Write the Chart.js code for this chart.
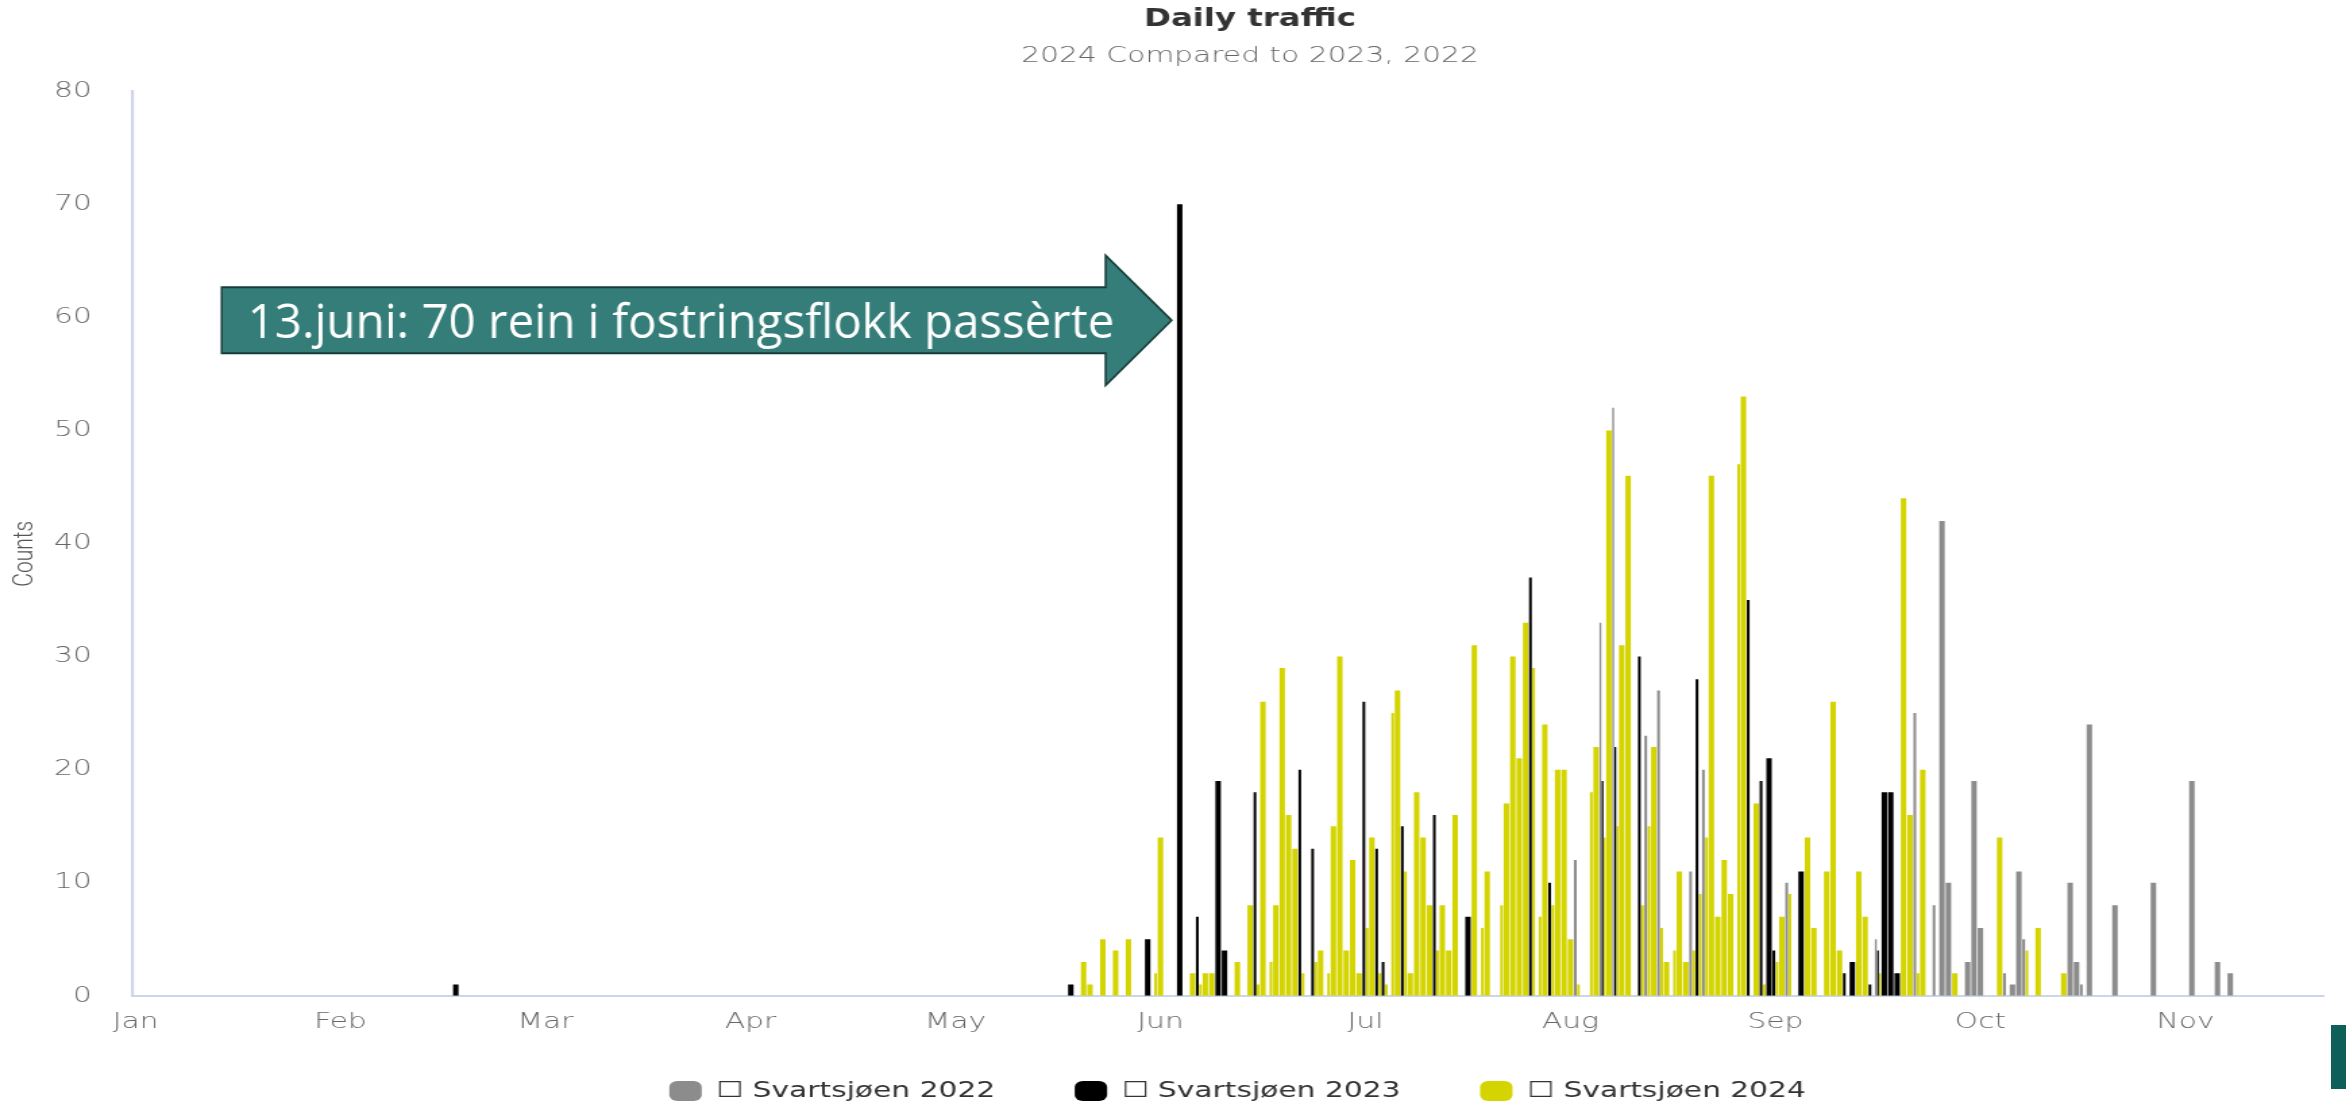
<!DOCTYPE html>
<html>
<head>
<meta charset="utf-8">
<title>Daily traffic</title>
<script src="https://cdn.jsdelivr.net/npm/chart.js@4.4.1/dist/chart.umd.min.js"></script>
<style>
    html, body { margin: 0; padding: 0; background: #fff; overflow: hidden; }
    #wrap { position: relative; width: 2346px; height: 1107px; overflow: hidden; }
    #chart { position: absolute; left: 0; top: 0; }
    .side-tab { position: absolute; left: 2331px; top: 1025px; width: 15px; height: 64px; background: #0e5e5a; }
</style>
</head>
<body>
<div id="wrap">
    <!-- drawn at 1852px wide and shown 1.35x wider, like the original screenshot -->
    <canvas id="chart" width="1852" height="1107" style="width:2500px;height:1107px;"></canvas>
    <div class="side-tab"></div>
</div>
<script>
// --- Data ---
// x axis: one category per day, index 0 = 1 Jan (non-leap calendar)
const dayCount = 342;
const labelEvery = 32;
const monthNames = ['Jan', 'Feb', 'Mar', 'Apr', 'May', 'Jun', 'Jul', 'Aug', 'Sep', 'Oct', 'Nov', 'Dec'];

// day index -> count (0 = counted day with nothing passing)
const days2022 = [225, 229, 231, 236, 238, 243, 245, 258, 272, 278, 281, 282, 283, 286, 287, 288, 292, 293, 294, 295,
    302, 303, 304, 305, 309, 315, 321, 325, 327];
const counts2022 = [12, 33, 52, 23, 27, 11, 20, 10, 5, 25, 8, 42, 10, 3, 19, 6, 2, 1, 11, 5,
    10, 3, 1, 24, 8, 10, 19, 3, 2];

const days2023 = [50, 146, 158, 159, 163, 166, 169, 170, 175, 177, 182, 184, 186, 192, 194, 195, 196, 198, 203, 208,
    210, 213, 218, 219, 221, 227, 229, 231, 235, 240, 244, 250, 252, 254, 255, 256, 260, 267, 268, 271,
    272, 273, 274, 275];
const counts2023 = [1, 1, 5, 0, 70, 7, 19, 4, 18, 0, 20, 13, 0, 26, 13, 3, 0, 15, 16, 7,
    0, 0, 37, 0, 10, 0, 19, 22, 30, 0, 28, 0, 35, 19, 21, 4, 11, 2, 3, 1,
    4, 18, 18, 2];

const days2024 = [148, 149, 151, 153, 155, 159, 160, 165, 166, 167, 168, 172, 174, 175, 176, 177, 178, 179, 180, 181,
    182, 184, 185, 186, 187, 188, 189, 190, 191, 192, 193, 194, 195, 196, 197, 198, 199, 200, 201, 202,
    203, 204, 205, 206, 209, 210, 211, 213, 214, 215, 216, 217, 218, 219, 220, 221, 222, 223, 224, 225,
    227, 228, 229, 230, 231, 232, 233, 235, 236, 237, 238, 239, 240, 241, 242, 243, 244, 245, 246, 247,
    248, 249, 250, 251, 252, 253, 254, 256, 257, 258, 261, 262, 264, 265, 266, 267, 269, 270, 271, 272,
    276, 277, 278, 279, 281, 284, 291, 292, 295, 297, 301, 304];
const counts2024 = [3, 1, 5, 4, 5, 2, 14, 2, 1, 2, 2, 3, 8, 1, 26, 3, 8, 29, 16, 13,
    2, 3, 4, 2, 15, 30, 4, 12, 2, 6, 14, 2, 1, 25, 27, 11, 2, 18, 14, 8,
    4, 8, 4, 16, 31, 6, 11, 8, 17, 30, 21, 33, 29, 7, 24, 8, 20, 20, 5, 1,
    18, 22, 14, 50, 15, 31, 46, 8, 15, 22, 6, 3, 4, 11, 3, 4, 9, 14, 46, 7,
    12, 9, 47, 53, 0, 17, 1, 3, 7, 9, 14, 6, 11, 26, 4, 0, 11, 7, 0, 2,
    44, 16, 2, 20, 0, 2, 14, 0, 4, 6, 2, 0];

const yMin = 0;
const yMax = 80;
const yStep = 10;

const noteText = '13.juni: 70 rein i fostringsflokk passèrte';
const noteDay = 163;
const noteLevel = 60;

const STRETCH = 1.35; // css width / canvas width

// --- Build chart inputs ---
const labels = [];
for (let i = 0; i < dayCount; i++) {
    const d = new Date(Date.UTC(2023, 0, 1 + i));
    labels.push(monthNames[d.getUTCMonth()] + ' ' + d.getUTCDate());
}

function fillSeries(days, counts) {
    const out = new Array(dayCount).fill(null);
    days.forEach((d, i) => { out[d] = counts[i]; });
    return out;
}

// arrow callout pointing at the 13 June bar, drawn in screen pixels
const arrowNote = {
    id: 'arrowNote',
    afterDatasetsDraw(chart) {
        const { ctx, scales: { x, y } } = chart;
        const tipX = x.getPixelForValue(noteDay) - 6;
        const tipY = y.getPixelForValue(noteLevel) + 3;
        ctx.save();
        ctx.translate(tipX, tipY);
        ctx.scale(1 / STRETCH, 1);
        ctx.beginPath();
        ctx.moveTo(-950, -33);
        ctx.lineTo(-66, -33);
        ctx.lineTo(-66, -65);
        ctx.lineTo(0, 0);
        ctx.lineTo(-66, 65);
        ctx.lineTo(-66, 33);
        ctx.lineTo(-950, 33);
        ctx.closePath();
        ctx.fillStyle = '#347d79';
        ctx.fill();
        ctx.lineWidth = 2;
        ctx.strokeStyle = '#173b39';
        ctx.stroke();
        ctx.fillStyle = '#ffffff';
        ctx.font = '47.5px "Open Sans"';
        ctx.textBaseline = 'alphabetic';
        ctx.textAlign = 'left';
        ctx.fillText(noteText, -924, 18);
        ctx.restore();
    }
};

Chart.defaults.font.family = '"DejaVu Sans", sans-serif';
Chart.defaults.color = '#666';

const gap = '\u00a0\u00a0\u00a0\u00a0';
const tailGap = '\u00a0\u00a0\u2009';

new Chart(document.getElementById('chart'), {
    type: 'bar',
    data: {
        labels: labels,
        datasets: [
            { label: 'Svartsjøen 2022', data: fillSeries(days2022, counts2022), backgroundColor: '#8c8c8c' },
            { label: 'Svartsjøen 2023', data: fillSeries(days2023, counts2023), backgroundColor: '#000000' },
            { label: 'Svartsjøen 2024', data: fillSeries(days2024, counts2024), backgroundColor: '#d4d400' }
        ]
    },
    options: {
        responsive: false,
        animation: false,
        layout: { padding: { top: 0, left: 0, right: 0, bottom: -5 } },
        datasets: {
            bar: { categoryPercentage: 1, barPercentage: 0.85, skipNull: true, borderWidth: 0 }
        },
        plugins: {
            title: {
                display: true,
                text: 'Daily traffic',
                color: '#333',
                font: { size: 24, weight: 'bold' },
                padding: { top: 5, bottom: 0 }
            },
            subtitle: {
                display: true,
                text: '2024 Compared to 2023, 2022',
                color: '#666',
                font: { size: 22, weight: 300 },
                padding: { top: 9, bottom: 22 }
            },
            legend: {
                position: 'bottom',
                labels: {
                    color: '#333',
                    font: { size: 22 },
                    boxWidth: 24,
                    boxHeight: 20,
                    useBorderRadius: true,
                    borderRadius: 6,
                    padding: 31,
                    generateLabels(chart) {
                        const items = Chart.defaults.plugins.legend.labels.generateLabels(chart);
                        return items.map((item, i) => Object.assign(item, {
                            text: '\u2610 ' + item.text + (i < items.length - 1 ? gap : tailGap),
                            lineWidth: 0
                        }));
                    }
                }
            },
            tooltip: { enabled: false }
        },
        scales: {
            x: {
                grid: { display: false, drawTicks: false },
                border: { color: '#ccd6eb', width: 2 },
                ticks: {
                    autoSkip: false,
                    maxRotation: 0,
                    padding: 13.4,
                    color: '#666',
                    font: { size: 22, weight: 300 },
                    callback(value, index) {
                        return index % labelEvery === 0 ? this.getLabelForValue(value).split(' ')[0] : '';
                    }
                }
            },
            y: {
                min: yMin,
                max: yMax,
                grid: { display: false, drawTicks: false },
                border: { color: '#ccd6eb', width: 2.2 },
                ticks: { stepSize: yStep, padding: 30, color: '#666', font: { size: 22, weight: 300 } },
                title: {
                    display: true,
                    text: 'Counts\u00a0\u00a0\u00a0\u00a0',
                    color: '#555',
                    font: { family: '"Liberation Sans Narrow", Roboto, sans-serif', size: 21, weight: 300 },
                    padding: { top: 6 }
                },
                afterFit(scale) { scale.width = 98; }
            },
            spare: {
                type: 'linear',
                axis: 'y',
                position: 'right',
                grid: { display: false },
                border: { display: false },
                ticks: { display: false },
                afterFit(scale) { scale.width = 131; }
            }
        }
    },
    plugins: [arrowNote]
});
</script>
</body>
</html>
